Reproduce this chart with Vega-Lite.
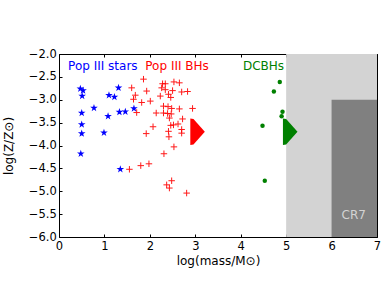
{
  "$schema": "https://vega.github.io/schema/vega-lite/v6.json",
  "autosize": "none",
  "width": 318,
  "height": 183,
  "padding": {"left": 59, "top": 54, "right": 13, "bottom": 56},
  "background": "white",
  "config": {
    "font": "DejaVu Sans",
    "view": {"stroke": null},
    "axis": {
      "grid": false,
      "domainColor": "black",
      "domainWidth": 1,
      "tickColor": "black",
      "tickWidth": 1,
      "tickSize": -3,
      "labelColor": "black",
      "labelFont": "DejaVu Sans",
      "labelFontSize": 11.5,
      "titleFont": "DejaVu Sans",
      "titleFontSize": 12,
      "titleFontWeight": "normal",
      "titleColor": "black",
      "zindex": 1
    }
  },
  "datasets": {
    "stars": [
      {"m": 0.47, "z": -2.76}, {"m": 0.53, "z": -2.80}, {"m": 0.51, "z": -2.92},
      {"m": 0.50, "z": -3.29}, {"m": 0.50, "z": -3.54}, {"m": 0.50, "z": -3.74},
      {"m": 0.48, "z": -4.18}, {"m": 0.77, "z": -3.18}, {"m": 0.99, "z": -3.72},
      {"m": 1.08, "z": -3.36}, {"m": 1.10, "z": -2.90}, {"m": 1.22, "z": -2.94},
      {"m": 1.31, "z": -2.74}, {"m": 1.33, "z": -3.27}, {"m": 1.46, "z": -3.26},
      {"m": 1.65, "z": -3.19}, {"m": 1.35, "z": -4.52}
    ],
    "bhs": [
      {"m": 1.86, "z": -2.55}, {"m": 1.60, "z": -2.74}, {"m": 1.93, "z": -2.81},
      {"m": 1.68, "z": -2.90}, {"m": 1.64, "z": -2.99}, {"m": 1.82, "z": -3.06},
      {"m": 2.01, "z": -3.03}, {"m": 1.71, "z": -3.28}, {"m": 2.07, "z": -3.59},
      {"m": 1.92, "z": -3.74}, {"m": 2.53, "z": -4.03}, {"m": 2.31, "z": -4.18},
      {"m": 1.98, "z": -4.40}, {"m": 1.80, "z": -4.44}, {"m": 1.55, "z": -4.52},
      {"m": 2.48, "z": -4.77}, {"m": 2.37, "z": -4.86}, {"m": 2.43, "z": -4.93},
      {"m": 2.81, "z": -5.04}, {"m": 2.14, "z": -3.29},
      {"m": 2.28, "z": -2.65}, {"m": 2.34, "z": -2.65}, {"m": 2.53, "z": -2.61},
      {"m": 2.65, "z": -2.63}, {"m": 2.26, "z": -2.74}, {"m": 2.34, "z": -2.78},
      {"m": 2.50, "z": -2.80}, {"m": 2.70, "z": -2.83}, {"m": 2.83, "z": -2.82},
      {"m": 2.23, "z": -2.92}, {"m": 2.41, "z": -2.88}, {"m": 2.46, "z": -2.95},
      {"m": 2.30, "z": -3.14}, {"m": 2.40, "z": -3.15}, {"m": 2.48, "z": -3.19},
      {"m": 2.65, "z": -3.20}, {"m": 2.94, "z": -3.19}, {"m": 2.30, "z": -3.29},
      {"m": 2.39, "z": -3.30}, {"m": 2.47, "z": -3.31}, {"m": 2.43, "z": -3.40},
      {"m": 2.72, "z": -3.42}, {"m": 2.46, "z": -3.56}, {"m": 2.52, "z": -3.55},
      {"m": 2.62, "z": -3.53}, {"m": 2.41, "z": -3.69}, {"m": 2.70, "z": -3.65},
      {"m": 2.70, "z": -3.73}, {"m": 2.42, "z": -3.81}
    ],
    "dcbhs": [
      {"m": 4.86, "z": -2.61}, {"m": 4.73, "z": -2.82}, {"m": 4.92, "z": -3.26},
      {"m": 4.90, "z": -3.36}, {"m": 4.48, "z": -3.57}, {"m": 4.53, "z": -4.77}
    ],
    "arrows": [
      {"grp": "Pop III BHs", "m": 2.89, "top": -3.41, "bot": -3.99},
      {"grp": "Pop III BHs", "m": 2.96, "top": -3.42, "bot": -3.98},
      {"grp": "Pop III BHs", "m": 3.21, "top": -3.70, "bot": -3.70},
      {"grp": "DCBHs", "m": 4.93, "top": -3.41, "bot": -3.99},
      {"grp": "DCBHs", "m": 5.0, "top": -3.42, "bot": -3.98},
      {"grp": "DCBHs", "m": 5.25, "top": -3.70, "bot": -3.70}
    ],
    "light": [{"m1": 5, "m2": 7, "z1": -6, "z2": -2}],
    "dark": [{"m1": 6, "m2": 7, "z1": -6, "z2": -3}],
    "labels": [
      {"text": "Pop III stars", "m": 0.2, "z": -2.355},
      {"text": "Pop III BHs", "m": 1.9, "z": -2.355},
      {"text": "DCBHs", "m": 4.05, "z": -2.355},
      {"text": "CR7", "m": 6.22, "z": -5.61}
    ]
  },
  "resolve": {"axis": {"x": "independent", "y": "independent"}},
  "layer": [
    {
      "data": {"name": "light"},
      "mark": {"type": "rect", "color": "#d3d3d3", "opacity": 1},
      "encoding": {
        "x": {"field": "m1", "type": "quantitative",
              "scale": {"domain": [0, 7], "nice": false, "zero": false},
              "axis": {"orient": "bottom", "values": [0, 1, 2, 3, 4, 5, 6, 7], "format": "d",
                       "labelFlush": false, "labelPadding": 6.3, "title": "log(mass/M⊙)", "titlePadding": 4}},
        "x2": {"field": "m2"},
        "y": {"field": "z1", "type": "quantitative",
              "scale": {"domain": [-6, -2], "nice": false, "zero": false},
              "axis": {"orient": "left", "values": [-6, -5.5, -5, -4.5, -4, -3.5, -3, -2.5, -2], "format": ".1f",
                       "labelFlush": false, "labelPadding": 5.7, "title": "log(Z/Z⊙)", "titlePadding": 13}},
        "y2": {"field": "z2"}
      }
    },
    {
      "data": {"name": "dark"},
      "mark": {"type": "rect", "color": "#808080", "opacity": 1},
      "encoding": {
        "x": {"field": "m1", "type": "quantitative",
              "axis": {"orient": "top", "values": [0, 1, 2, 3, 4, 5, 6, 7], "labels": false, "title": null}},
        "x2": {"field": "m2"},
        "y": {"field": "z1", "type": "quantitative",
              "axis": {"orient": "right", "values": [-6, -5.5, -5, -4.5, -4, -3.5, -3, -2.5, -2], "labels": false, "title": null}},
        "y2": {"field": "z2"}
      }
    },
    {
      "data": {"name": "stars"},
      "mark": {"type": "point", "shape": "M0,-1L0.225,-0.309L0.951,-0.309L0.363,0.118L0.588,0.809L0,0.382L-0.588,0.809L-0.363,0.118L-0.951,-0.309L-0.225,-0.309Z",
               "filled": true, "color": "#0000ff", "size": 64, "opacity": 1, "strokeWidth": 0},
      "encoding": {
        "x": {"field": "m", "type": "quantitative", "axis": null},
        "y": {"field": "z", "type": "quantitative", "axis": null}
      }
    },
    {
      "data": {"name": "bhs"},
      "mark": {"type": "point", "shape": "M-1,0L1,0M0,-1L0,1", "filled": false, "stroke": "#ff0000",
               "strokeWidth": 1, "size": 42, "opacity": 0.9},
      "encoding": {
        "x": {"field": "m", "type": "quantitative", "axis": null},
        "y": {"field": "z", "type": "quantitative", "axis": null}
      }
    },
    {
      "data": {"name": "dcbhs"},
      "mark": {"type": "circle", "color": "#008000", "size": 20, "opacity": 1},
      "encoding": {
        "x": {"field": "m", "type": "quantitative", "axis": null},
        "y": {"field": "z", "type": "quantitative", "axis": null}
      }
    },
    {
      "data": {"name": "arrows"},
      "mark": {"type": "area", "opacity": 1, "orient": "vertical"},
      "encoding": {
        "x": {"field": "m", "type": "quantitative", "axis": null},
        "y": {"field": "top", "type": "quantitative", "axis": null, "stack": null},
        "y2": {"field": "bot"},
        "fill": {"field": "grp", "type": "nominal",
                 "scale": {"domain": ["Pop III BHs", "DCBHs"], "range": ["#ff0000", "#008000"]}, "legend": null}
      }
    },
    {
      "data": {"name": "labels"},
      "mark": {"type": "text", "align": "left", "baseline": "alphabetic", "fontSize": 12, "font": "DejaVu Sans"},
      "encoding": {
        "x": {"field": "m", "type": "quantitative", "axis": null},
        "y": {"field": "z", "type": "quantitative", "axis": null},
        "text": {"field": "text"},
        "color": {"field": "text", "type": "nominal",
                  "scale": {"domain": ["Pop III stars", "Pop III BHs", "DCBHs", "CR7"],
                            "range": ["#0000ff", "#ff0000", "#008000", "#d3d3d3"]}, "legend": null}
      }
    }
  ]
}
